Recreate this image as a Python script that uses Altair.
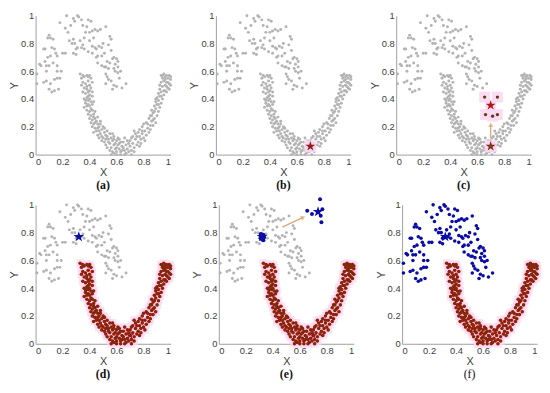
import altair as alt
import pandas as pd

TICKS = [0, 0.2, 0.4, 0.6, 0.8, 1]
CAPTIONS = ["(a)", "(b)", "(c)", "(d)", "(e)", "(f)"]

# upper (sparse) crescent
upper_x = [0.23,0.28,0.31,0.32,0.34,0.29,0.39,0.41,0.18,0.22,
           0.35,0.38,0.42,0.44,0.46,0.48,0.52,0.10,0.11,0.09,
           0.13,0.25,0.28,0.29,0.33,0.35,0.31,0.34,0.36,0.40,
           0.42,0.44,0.45,0.47,0.49,0.55,0.56,0.54,0.06,0.07,
           0.12,0.14,0.15,0.11,0.16,0.22,0.28,0.30,0.39,0.42,
           0.46,0.49,0.51,0.56,0.60,0.61,0.53,0.55,0.57,0.46,
           0.49,0.52,0.08,0.10,0.16,0.08,0.16,0.19,0.06,0.08,
           0.11,0.14,0.16,0.10,0.14,0.17,0.51,0.54,0.58,0.59,
           0.61,0.63,0.52,0.53,0.54,0.56,0.58,0.60,0.52,0.67,
           0.61,0.59,0.04,0.03,0.01,0.01,
           0.20,0.24,0.27,0.37,0.40,0.43,0.50,0.58,0.62,0.64,
           0.57,0.45,0.30,0.09,0.13,0.07,0.18,0.12,0.26,0.36]
upper_y = [1.00,0.98,1.00,0.99,0.97,0.96,0.97,0.96,0.95,0.91,
           0.93,0.92,0.89,0.90,0.89,0.90,0.92,0.86,0.84,0.84,
           0.83,0.82,0.83,0.80,0.82,0.79,0.77,0.77,0.76,0.82,
           0.78,0.77,0.76,0.78,0.77,0.85,0.83,0.79,0.76,0.76,
           0.77,0.76,0.73,0.71,0.71,0.73,0.73,0.76,0.74,0.73,
           0.71,0.71,0.73,0.75,0.69,0.67,0.67,0.66,0.69,0.66,
           0.64,0.63,0.64,0.64,0.64,0.60,0.60,0.60,0.52,0.53,
           0.51,0.54,0.55,0.47,0.46,0.47,0.63,0.62,0.62,0.60,
           0.59,0.60,0.58,0.56,0.54,0.53,0.50,0.49,0.51,0.51,
           0.63,0.65,0.64,0.65,0.58,0.51,
           0.73,0.88,0.80,0.88,0.88,0.84,0.80,0.70,0.55,0.48,
           0.47,0.70,0.72,0.70,0.66,0.67,0.55,0.45,0.93,0.84]

# lower (dense) U-shaped crescent
lower_x = ([0.33,0.34,0.36,0.38,0.40,0.41,0.35,0.37,0.39,0.40,0.36,0.38,0.41,0.39,0.37,0.40,0.38,0.42,0.36,0.39,0.41,0.37,0.38,0.40,0.42,0.36]
           + [0.38,0.40,0.42,0.39,0.41,0.43,0.40,0.42,0.44,0.41, 0.43,0.45,0.46,0.42,0.44,0.47,0.48,0.45,0.47,0.49,
              0.50,0.43,0.46,0.48,0.51,0.52,0.47,0.50,0.53,0.55, 0.49,0.51,0.54,0.56,0.52,0.55,0.57,0.58,0.53,0.56,
              0.58,0.60,0.55,0.57,0.59,0.61,0.62,0.58,0.60,0.62, 0.63,0.64,0.65,0.61,0.63,0.66,0.67,0.68,0.66]
           + [0.68,0.70,0.69,0.71,0.72,0.70,0.73,0.74,0.72,0.75, 0.76,0.77,0.74,0.76,0.78,0.79,0.77,0.80,0.81,0.79,
              0.82,0.83,0.80,0.84,0.85,0.82,0.78,0.73]
           + [0.86,0.84,0.87,0.88,0.85,0.89,0.87,0.90,0.86,0.89, 0.91,0.88,0.90,0.92,0.89,0.91,0.93,0.90,0.92,0.94,
              0.91,0.93,0.95,0.96,0.92]
           + [0.94,0.96,0.98,0.93,0.95,0.97,0.99,0.94,0.96,0.98, 1.00,0.93,0.95,0.97,0.99,0.97,0.99,1.00]
           + [0.35,0.39,0.34,0.42,0.38,0.40,0.35,0.42,0.39,0.37, 0.40,0.43,0.39,0.41,0.44,0.43,0.46,0.44,0.48,0.46,
              0.51,0.49,0.53,0.52,0.57,0.54,0.59,0.56,0.60,0.62, 0.64,0.65,0.67,0.69,0.71,0.73,0.75,0.77,0.79,0.81,
              0.83,0.85,0.87,0.86,0.88,0.91,0.89,0.93,0.95,0.92, 0.96,0.98,0.94,1.00,0.97,0.60,0.66,0.71,0.58,0.63])
lower_y = ([0.58,0.55,0.56,0.57,0.57,0.55,0.52,0.51,0.53,0.50,0.48,0.47,0.48,0.45,0.44,0.43,0.41,0.42,0.40,0.39,0.38,0.37,0.35,0.35,0.36,0.34]
           + [0.32,0.31,0.32,0.29,0.28,0.29,0.26,0.25,0.26,0.23, 0.22,0.24,0.22,0.20,0.19,0.20,0.22,0.17,0.17,0.18,
              0.20,0.16,0.14,0.15,0.16,0.14,0.12,0.12,0.13,0.15, 0.10,0.09,0.11,0.12,0.07,0.08,0.10,0.13,0.05,0.05,
              0.07,0.10,0.03,0.02,0.04,0.07,0.11,0.01,0.02,0.04, 0.00,0.06,0.09,0.12,0.02,0.03,0.07,0.10,0.12]
           + [0.04,0.06,0.02,0.03,0.08,0.10,0.05,0.11,0.13,0.07, 0.09,0.13,0.15,0.16,0.11,0.15,0.18,0.12,0.17,0.20,
              0.14,0.19,0.22,0.16,0.21,0.23,0.08,0.17]
           + [0.24,0.26,0.21,0.26,0.28,0.23,0.30,0.28,0.32,0.33, 0.31,0.35,0.36,0.34,0.38,0.39,0.37,0.41,0.42,0.40,
              0.44,0.45,0.43,0.46,0.47]
           + [0.49,0.50,0.48,0.52,0.53,0.52,0.51,0.55,0.56,0.55, 0.54,0.57,0.58,0.57,0.57,0.45,0.47,0.50]
           + [0.57,0.56,0.50,0.52,0.49,0.46,0.45,0.45,0.42,0.39, 0.40,0.38,0.36,0.33,0.31,0.27,0.27,0.23,0.24,0.19,
              0.19,0.13,0.17,0.11,0.15,0.09,0.08,0.00,0.05,0.08, 0.03,0.05,0.01,0.08,0.12,0.02,0.13,0.06,0.17,0.10,
              0.22,0.18,0.25,0.28,0.31,0.36,0.40,0.42,0.46,0.50, 0.54,0.52,0.57,0.56,0.49,0.00,0.00,0.00,0.11,0.09])

seed_x, seed_y = [0.70], [0.06]
moved_x, moved_y = [0.70], [0.355]
nbr_x = [0.655, 0.75, 0.662, 0.714, 0.75]
nbr_y = [0.414, 0.414, 0.288, 0.277, 0.288]
arrow1_from = ([0.70], [0.12])
arrow1_to = ([0.70], [0.215])
bstar1_x, bstar1_y = [0.32], [0.77]
bclus1_x = [0.31, 0.33, 0.31, 0.335, 0.32, 0.33]
bclus1_y = [0.79, 0.785, 0.76, 0.765, 0.75, 0.745]
bstar2_x, bstar2_y = [0.735], [0.95]
bclus2_x = [0.655, 0.69, 0.75, 0.767, 0.755, 0.76]
bclus2_y = [0.957, 0.934, 1.04, 0.969, 0.922, 0.875]
arrow2_from = ([0.47], [0.84])
arrow2_to = ([0.625], [0.91])

GRAY = "#b3b3b3"
PINK = "#fcd8f1"
RED = "#d40000"
BROWN = "#5b3a12"
DARKRED = "#8e1b1b"
BLUE = "#0b0ba8"
TAN = "#d9a878"
STAR = ("M0,-1L0.2245,-0.309L0.951,-0.309L0.363,0.118L0.588,0.809L0,0.382"
        "L-0.588,0.809L-0.363,0.118L-0.951,-0.309L-0.2245,-0.309Z")

SCALE = dict(domain=[0, 1], nice=False, zero=False)
W, H = 137, 141


def df(xs, ys):
    return pd.DataFrame({"x": xs, "y": ys})


def xenc():
    return alt.X("x:Q", scale=alt.Scale(**SCALE),
                 axis=alt.Axis(values=TICKS, title="X", format="~g"))


def yenc():
    return alt.Y("y:Q", scale=alt.Scale(**SCALE),
                 axis=alt.Axis(values=TICKS, title="Y", format="~g"))


def pts(d, color, size, shape="circle", opacity=1.0):
    return alt.Chart(d).mark_point(shape=shape, filled=True, color=color, size=size,
                                   opacity=opacity, clip=False).encode(x=xenc(), y=yenc())


def arrow(frm, to, angle):
    seg = pd.DataFrame({"x": [frm[0][0], to[0][0]], "y": [frm[1][0], to[1][0]]})
    line = alt.Chart(seg).mark_line(color=TAN, strokeWidth=1.3).encode(x=xenc(), y=yenc())
    head = alt.Chart(df(*to)).mark_point(shape="triangle-up", filled=True, color=TAN, size=30,
                                         angle=angle).encode(x=xenc(), y=yenc())
    return [line, head]


upper = df(upper_x, upper_y)
lower = df(lower_x, lower_y)
seed = df(seed_x, seed_y)
moved = df(moved_x, moved_y)
nbr = df(nbr_x, nbr_y)
bstar1 = df(bstar1_x, bstar1_y)
bclus1 = df(bclus1_x, bclus1_y)
bstar2 = df(bstar2_x, bstar2_y)
bclus2 = df(bclus2_x, bclus2_y)


def panel(layers, i):
    bold = "normal" if i == 5 else "bold"
    return alt.layer(*layers).properties(
        width=W, height=H,
        title=alt.Title(CAPTIONS[i], orient="bottom", font="Liberation Serif", fontSize=12,
                        fontWeight=bold, color="#111111", offset=2))


def lower_red():
    return [pts(lower, PINK, 65, "square", 0.75), pts(lower, RED, 13), pts(lower, BROWN, 6)]


pa = panel([pts(upper, GRAY, 9), pts(lower, GRAY, 9)], 0)
pb = panel([pts(upper, GRAY, 9), pts(lower, GRAY, 9),
            pts(seed, PINK, 150, "square", 0.9), pts(seed, DARKRED, 110, STAR)], 1)
pc = panel([pts(upper, GRAY, 9), pts(lower, GRAY, 9),
            pts(seed, PINK, 150, "square", 0.9), pts(nbr, PINK, 120, "square", 0.9),
            pts(moved, PINK, 120, "square", 0.9),
            pts(seed, DARKRED, 110, STAR), pts(seed, "#3d6b10", 6),
            pts(nbr, BROWN, 11), pts(moved, "#b01515", 110, STAR)]
           + arrow(arrow1_from, arrow1_to, 0), 2)
pd_ = panel([pts(upper, GRAY, 9)] + lower_red() +
            [pts(seed, DARKRED, 70, STAR), pts(bstar1, BLUE, 130, STAR)], 3)
pe = panel([pts(upper, GRAY, 9)] + lower_red() +
           [pts(seed, DARKRED, 70, STAR), pts(bclus1, BLUE, 16), pts(bstar1, BLUE, 130, STAR),
            pts(bclus2, BLUE, 16), pts(bstar2, BLUE, 130, STAR)]
           + arrow(arrow2_from, arrow2_to, 66), 4)
pf = panel([pts(upper, BLUE, 13)] + lower_red() + [pts(bstar1, BLUE, 130, STAR)], 5)

chart = alt.vconcat(
    alt.hconcat(pa, pb, pc, spacing=16),
    alt.hconcat(pd_, pe, pf, spacing=16),
    spacing=6,
    padding={"left": 0, "top": 0, "right": 0, "bottom": 0},
).configure_view(stroke=None).configure_axis(
    grid=False, ticks=False, tickSize=0, domainColor="#a0a0a0", domainWidth=1,
    labelColor="#404040", titleColor="#404040", labelFont="Liberation Sans",
    titleFont="Liberation Sans", labelFontSize=9.5, titleFontSize=11,
    titleFontWeight="normal", labelPadding=2, titlePadding=1,
)

chart.save("out.html", embed_options={"renderer": "svg", "actions": False})
